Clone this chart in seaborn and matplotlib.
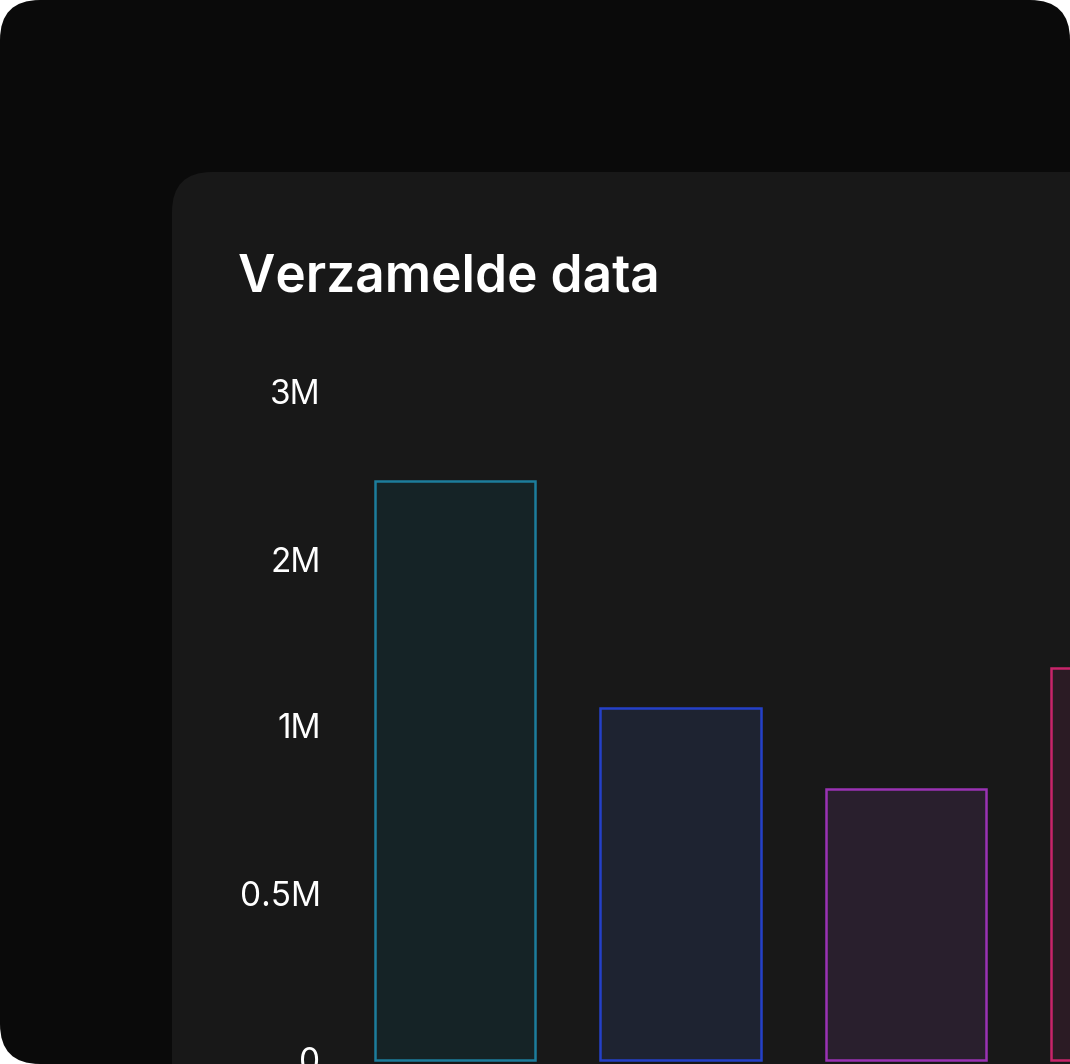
import numpy as np
import pandas as pd
import matplotlib
matplotlib.use("Agg")
import matplotlib.pyplot as plt
from matplotlib.patches import FancyBboxPatch
import seaborn as sns

# ── Data ──────────────────────────────────────────────────────────────────────
categories = ["Bron A", "Bron B", "Bron C", "Bron D"]
values = [2.47e6, 1.11e6, 0.81e6, 1.35e6]
tick_values = [0, 0.5e6, 1e6, 2e6, 3e6]
tick_labels = ["0", "0.5M", "1M", "2M", "3M"]

edge_colors = ["#1c7d9c", "#2440c8", "#9a32b4", "#c8246a"]
fill_colors = ["#152326", "#1e2331", "#291f2d", "#2b1b24"]

df = pd.DataFrame({"bron": categories, "waarde": values})

# piecewise scale: evenly spaced ticks
knots_v = [-0.5e6, 0, 0.5e6, 1e6, 2e6, 3e6, 20e6]
knots_t = [-1, 0, 1, 2, 3, 4, 21]
fwd = lambda v: np.interp(v, knots_v, knots_t)
inv = lambda t: np.interp(t, knots_t, knots_v)

sns.set_theme(style="white")
plt.rcParams["font.family"] = ["Inter", "DejaVu Sans"]

W, H = 1070, 1064
fig = plt.figure(figsize=(W / 100, H / 100), dpi=100, facecolor="white")

# background: outer dark card and inner panel
bg = fig.add_axes([0, 0, 1, 1], zorder=-5)
bg.set_xlim(0, W)
bg.set_ylim(H, 0)
bg.axis("off")
bg.add_patch(FancyBboxPatch((0, 0), W, H, boxstyle="round,pad=0,rounding_size=40",
                            facecolor="#0a0a0a", edgecolor="none"))
bg.add_patch(FancyBboxPatch((172, 172), W, H, boxstyle="round,pad=0,rounding_size=40",
                            facecolor="#181818", edgecolor="none"))
bg.text(238, 278, "Verzamelde data", color="white", fontsize=37,
        fontweight="semibold", va="center", ha="left")

ax = fig.add_axes([340 / W, 0, 1 - 340 / W, 1], zorder=1)
ax.patch.set_alpha(0)
sns.barplot(data=df, x="bron", y="waarde", ax=ax, width=0.71, hue="bron",
            palette=fill_colors, legend=False, linewidth=1.8, saturation=1)
for bar, ec in zip(ax.patches, edge_colors):
    bar.set_edgecolor(ec)

ax.set_yscale("function", functions=(fwd, inv))
ax.set_ylim(inv(-4 / 167), inv(1060 / 167))
ax.set_xlim((340 - 455) / 225.5, (1070 - 455) / 225.5)
ax.set_yticks(tick_values)
ax.set_yticklabels(tick_labels)
ax.tick_params(axis="y", colors="white", labelsize=24, length=0, pad=14)
ax.set_xticks([])
ax.set_xlabel("")
ax.set_ylabel("")
for s in ax.spines.values():
    s.set_visible(False)

plt.savefig("out.png", dpi=100, facecolor=fig.get_facecolor())
